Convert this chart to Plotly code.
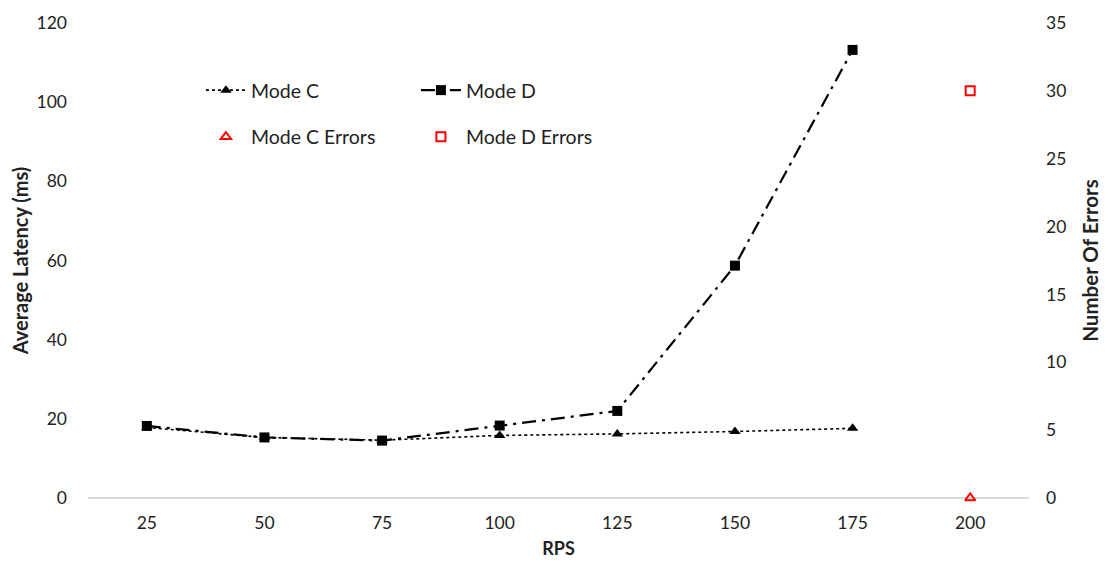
import plotly.graph_objects as go

# RPS categories on the x axis
rps = ["25", "50", "75", "100", "125", "150", "175", "200"]

# Average latency (ms) per mode; no latency recorded at 200 RPS
mode_c_latency = [17.8, 15.3, 14.6, 15.8, 16.2, 16.8, 17.6, None]
mode_d_latency = [18.2, 15.3, 14.5, 18.3, 22.0, 58.7, 113.2, None]

# Error counts (only measured at 200 RPS)
mode_c_errors = [None, None, None, None, None, None, None, 0]
mode_d_errors = [None, None, None, None, None, None, None, 30]

FONT = "Lato, 'Open Sans', sans-serif"

fig = go.Figure()

fig.add_trace(go.Scatter(
    x=rps, y=mode_c_latency, name="Mode C", mode="lines+markers",
    line=dict(color="black", width=1.6, dash="dot"),
    marker=dict(symbol="triangle-up", size=10, color="black"),
    legend="legend",
))
fig.add_trace(go.Scatter(
    x=rps, y=mode_d_latency, name="Mode D", mode="lines+markers",
    line=dict(color="black", width=2.2, dash="14px,6px,3px,6px"),
    marker=dict(symbol="square", size=10, color="black"),
    legend="legend",
))
fig.add_trace(go.Scatter(
    x=rps, y=mode_c_errors, name="Mode C Errors", mode="markers",
    marker=dict(symbol="triangle-up-open", size=9, color="red",
                line=dict(width=2, color="red")),
    yaxis="y2", legend="legend2", cliponaxis=False,
))
fig.add_trace(go.Scatter(
    x=rps, y=mode_d_errors, name="Mode D Errors", mode="markers",
    marker=dict(symbol="square-open", size=9, color="red",
                line=dict(width=2, color="red")),
    yaxis="y2", legend="legend2", cliponaxis=False,
))

legend_common = dict(
    orientation="h", xanchor="left", yanchor="middle",
    bgcolor="rgba(0,0,0,0)", font=dict(family=FONT, size=19.5, color="#222"),
    entrywidth=160, entrywidthmode="pixels", itemwidth=40,
)

fig.update_layout(
    width=1111, height=571,
    margin=dict(l=88, r=81, t=15, b=73),
    paper_bgcolor="white", plot_bgcolor="white",
    font=dict(family=FONT, size=17.5, color="#222"),
    xaxis=dict(
        type="category", categoryorder="array", categoryarray=rps,
        range=[-0.5, 7.5], showgrid=False, showline=False, zeroline=False,
        ticks="", ticklabelstandoff=12,
        title=dict(text="<b>RPS</b>", font=dict(size=18), standoff=10),
    ),
    yaxis=dict(
        range=[0, 120], dtick=20, showgrid=False, showline=False,
        zeroline=True, zerolinecolor="#d9d9d9", zerolinewidth=1.5,
        ticks="", ticklabelstandoff=20,
        title=dict(text="<b>Average Latency (ms)</b>", font=dict(size=20), standoff=2),
    ),
    yaxis2=dict(
        range=[0, 35], dtick=5, overlaying="y", side="right",
        showgrid=False, showline=False, zeroline=False,
        ticks="", ticklabelstandoff=16,
        title=dict(text="<b>Number Of Errors</b>", font=dict(size=20.5), standoff=18),
    ),
    legend=dict(x=0.12, y=0.858, **legend_common),
    legend2=dict(x=0.12, y=0.76, **legend_common),
    showlegend=True,
)

fig.write_html("out.html")
